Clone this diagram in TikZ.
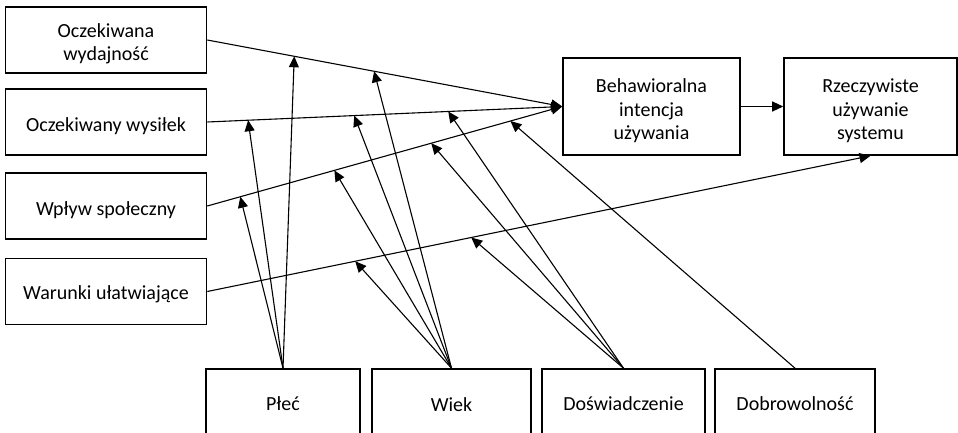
\documentclass[tikz,border=0pt]{standalone}
\usepackage{fontspec}
\setmainfont{Carlito}
\usetikzlibrary{arrows.meta}
\begin{document}
\begin{tikzpicture}[x=1pt,y=-1pt,
  box/.style={draw, line width=1.6pt, inner sep=0pt},
  txt/.style={align=center, inner sep=0pt, font=\fontsize{20}{23.5}\selectfont},
  link/.style={line width=1.1pt, -{Triangle[length=11pt,width=10pt]}},
  ]
\useasboundingbox (0,0) rectangle (958,433);
\clip (0,0) rectangle (958,433);

% determinants (left column)
\node[box, minimum width=201pt, minimum height=66pt] (pe) at (106,40) {};
\node[box, minimum width=201pt, minimum height=66pt] (ee) at (106,122) {};
\node[box, minimum width=201pt, minimum height=66pt] (si) at (106,206) {};
\node[box, minimum width=201pt, minimum height=66pt] (fc) at (106,291.5) {};
\node[txt, yshift=-4pt] (pe-t) at (pe) {Oczekiwana\\wydajność};
\node[txt, yshift=-4pt] (ee-t) at (ee) {Oczekiwany wysiłek};
\node[txt, yshift=-4pt] (si-t) at (si) {Wpływ społeczny};
\node[txt, yshift=-3pt] (fc-t) at (fc) {Warunki ułatwiające};

% intention and use
\node[box, minimum width=177pt, minimum height=97pt] (bi) at (651.5,106.5) {};
\node[box, minimum width=173pt, minimum height=97pt] (use) at (870.5,106.5) {};
\node[txt, yshift=-4.5pt] (bi-t) at (bi) {Behawioralna\\intencja\\używania};
\node[txt, yshift=-4.5pt] (use-t) at (use) {Rzeczywiste\\używanie\\systemu};

% moderators (bottom row, running past the lower edge)
\node[box, minimum width=154pt, minimum height=68pt] (gen) at (283,403) {};
\node[box, minimum width=159pt, minimum height=68pt] (age) at (451.5,403) {};
\node[box, minimum width=163pt, minimum height=68pt] (exp) at (623.5,403) {};
\node[box, minimum width=160pt, minimum height=68pt] (vol) at (795,403) {};
\node[txt, yshift=-1pt] (gen-t) at (gen) {Płeć};
\node[txt, yshift=-2pt] (age-t) at (age) {Wiek};
\node[txt, yshift=-1pt] (exp-t) at (exp) {Doświadczenie};
\node[txt, yshift=-1pt] (vol-t) at (vol) {Dobrowolność};

% main paths, with the points where the moderators meet them
\draw[link] (pe.east) -- coordinate[pos=0.245] (pe1) coordinate[pos=0.47] (pe2) (bi.west);
\draw[link] (ee.east) -- coordinate[pos=0.115] (ee1) coordinate[pos=0.414] (ee2)
  coordinate[pos=0.679] (ee3) (bi.west);
\draw[link] (si.east) -- coordinate[pos=0.093] (si1) coordinate[pos=0.358] (si2)
  coordinate[pos=0.631] (si3) coordinate[pos=0.854] (si4) (bi.west);
\draw[link] (fc.east) -- coordinate[pos=0.223] (fc1) coordinate[pos=0.398] (fc2) (use.south);
\draw[link] (bi.east) -- (use.west);

% gender
\draw[link] (gen.north) -- (pe1);
\draw[link] (gen.north) -- (ee1);
\draw[link] (gen.north) -- (si1);
% age
\draw[link] (age.north) -- (pe2);
\draw[link] (age.north) -- (ee2);
\draw[link] (age.north) -- (si2);
\draw[link] (age.north) -- (fc1);
% experience
\draw[link] (exp.north) -- (ee3);
\draw[link] (exp.north) -- (si3);
\draw[link] (exp.north) -- (fc2);
% voluntariness
\draw[link] (vol.north) -- (si4);
\end{tikzpicture}
\end{document}
